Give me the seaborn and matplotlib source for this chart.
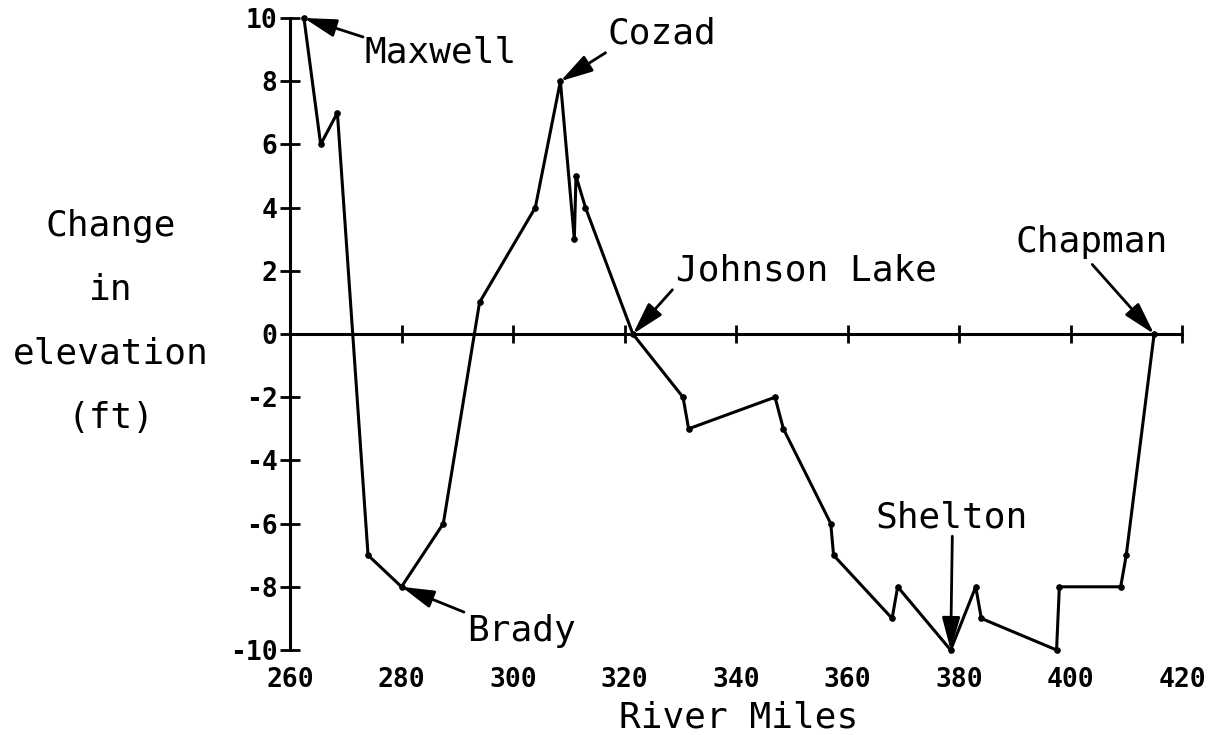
import matplotlib
matplotlib.use("Agg")
import matplotlib.pyplot as plt
import seaborn as sns
import pandas as pd

# ---- data ----
river_miles = [262.5, 265.5, 268.5, 274, 280, 287.5, 294, 304, 308.5, 311, 311.3, 313,
               321.5, 330.5, 331.5, 347, 348.5, 357, 357.5, 368, 369, 378.5, 383, 384,
               397.5, 398, 409, 410, 415]
elev_change = [10, 6, 7, -7, -8, -6, 1, 4, 8, 3, 5, 4,
               0, -2, -3, -2, -3, -6, -7, -9, -8, -10, -8, -9,
               -10, -8, -8, -7, 0]

x_ticks = [260, 280, 300, 320, 340, 360, 380, 400, 420]
y_ticks = [-10, -8, -6, -4, -2, 0, 2, 4, 6, 8, 10]

places = ["Maxwell", "Cozad", "Johnson Lake", "Chapman", "Shelton", "Brady"]
place_points = [(262.5, 10), (308.5, 8), (321.5, 0), (415, 0), (378.5, -10), (280, -8)]
label_pos = [(273.4, 8.9), (317.0, 9.5), (329.2, 2.0), (390.1, 2.9), (365.0, -5.8), (291.7, -9.4)]
arrow_tail = [(273.1, 9.4), (316.6, 8.9), (328.6, 1.4), (403.9, 2.2), (378.8, -6.4), (291.2, -8.8)]

df = pd.DataFrame({"River Miles": river_miles, "Change": elev_change})

sns.set_theme(style="white")
plt.rcParams["font.family"] = ["DejaVu Sans Mono", "DejaVu Sans"]
plt.rcParams["text.color"] = "black"
plt.rcParams["xtick.color"] = "black"
plt.rcParams["ytick.color"] = "black"

fig = plt.figure(figsize=(12.15, 7.35), dpi=100)
ax = fig.add_axes([290 / 1215, 1 - 650 / 735, 892 / 1215, 632 / 735])

sns.lineplot(data=df, x="River Miles", y="Change", ax=ax, sort=False,
             color="black", linewidth=2.2, marker="o", markersize=4,
             markeredgecolor="black", clip_on=False)

ax.set_xlim(260, 420)
ax.set_ylim(-10, 10)

for s in ["top", "right"]:
    ax.spines[s].set_visible(False)
ax.spines["left"].set_color("black")
ax.spines["left"].set_linewidth(2.2)
ax.spines["bottom"].set_position(("data", 0))
ax.spines["bottom"].set_color("black")
ax.spines["bottom"].set_linewidth(2.2)

ax.set_yticks(y_ticks)
ax.set_yticklabels([str(v) for v in y_ticks])
ax.tick_params(axis="y", direction="inout", length=14, width=2, color="black",
               labelcolor="black", pad=2, labelsize=19, left=True)
for t in ax.get_yticklabels():
    t.set_fontweight("bold")

ax.set_xticks(x_ticks)
ax.tick_params(axis="x", direction="inout", length=13, width=2, color="black",
               labelbottom=False, bottom=True)
ax.set_xlabel("")
ax.set_ylabel("")

sec = ax.secondary_xaxis("bottom")
sec.set_xticks(x_ticks)
sec.set_xticklabels([str(v) for v in x_ticks])
sec.tick_params(axis="x", length=0, pad=12, labelsize=19, labelcolor="black")
sec.spines["bottom"].set_visible(False)
for t in sec.get_xticklabels():
    t.set_fontweight("bold")

for name, pt, lp, tail in zip(places, place_points, label_pos, arrow_tail):
    ax.text(lp[0], lp[1], name, fontsize=26, ha="left", va="center", color="black")
    ax.annotate("", xy=pt, xytext=tail,
                arrowprops=dict(arrowstyle="-|>,head_length=0.9,head_width=0.25",
                                color="black", lw=2, shrinkA=0, shrinkB=0,
                                mutation_scale=22),
                annotation_clip=False)

fig.text(111 / 1215, 1 - 322 / 735, "Change\nin\nelevation\n(ft)", fontsize=26,
         ha="center", va="center", linespacing=2.1, color="black")
fig.text(739 / 1215, 1 - 717 / 735, "River Miles", fontsize=26,
         ha="center", va="center", color="black")

fig.savefig("out.png", dpi=100)
